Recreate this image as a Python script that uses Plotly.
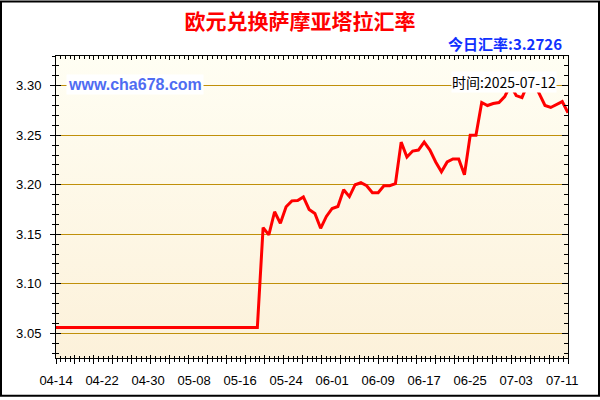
import base64
import pandas as pd
import plotly.graph_objects as go

# daily EUR -> WST rates, 2025-04-14 .. 2025-07-12
dates = pd.date_range("2025-04-14", "2025-07-12", freq="D").strftime("%Y-%m-%d").tolist()
rates = [3.0558] * 36 + [
    3.1567, 3.1493, 3.1727, 3.1610, 3.1777, 3.1837, 3.1840, 3.1877,
    3.1750, 3.1710, 3.1560, 3.1680, 3.1760, 3.1780, 3.1950, 3.1880,
    3.2000, 3.2020, 3.1990, 3.1920, 3.1920, 3.1990, 3.1990, 3.2010,
    3.2430, 3.2280, 3.2340, 3.2350, 3.2430, 3.2350, 3.2230, 3.2130,
    3.2230, 3.2260, 3.2260, 3.2100, 3.2500, 3.2500, 3.2830, 3.2800,
    3.2820, 3.2830, 3.2890, 3.3010, 3.2900, 3.2880, 3.3020, 3.3040,
    3.2920, 3.2800, 3.2780, 3.2810, 3.2840, 3.2726,
]

tick_dates = ["2025-04-14", "2025-04-22", "2025-04-30", "2025-05-08", "2025-05-16", "2025-05-24",
              "2025-06-01", "2025-06-09", "2025-06-17", "2025-06-25", "2025-07-03", "2025-07-11"]
tick_labels = ["04-14", "04-22", "04-30", "05-08", "05-16", "05-24",
               "06-01", "06-09", "06-17", "06-25", "07-03", "07-11"]
y_ticks = [3.05, 3.10, 3.15, 3.20, 3.25, 3.30]
y_labels = ["3.05", "3.10", "3.15", "3.20", "3.25", "3.30"]

title = "欧元兑换萨摩亚塔拉汇率"
today_rate = "今日汇率:3.2726"
time_label = "时间:2025-07-12"
site = "www.cha678.com"

GOLD = "#C0900A"
DAY = 86400000
x_range = [dates[0], dates[-1]]
y_range = [3.025, 3.33]
span = (len(dates) - 1) * DAY
long_dt = span / 27
short_dt = span / 108

# plot area geometry (px)
L, R, T, B = 56, 568, 56, 361
W, H = R - L, B - T


def px_x(p):
    return (p - L) / W


def px_y(p):
    return (B - p) / H


svg = ('<svg xmlns="http://www.w3.org/2000/svg" width="10" height="100" preserveAspectRatio="none">'
       '<defs><linearGradient id="g" x1="0" y1="0" x2="0" y2="1">'
       '<stop offset="0" stop-color="#FFFEF3"/><stop offset="1" stop-color="#FCF1DA"/>'
       '</linearGradient></defs><rect width="10" height="100" fill="url(#g)"/></svg>')
bg_src = "data:image/svg+xml;base64," + base64.b64encode(svg.encode()).decode()

fig = go.Figure()
fig.add_trace(go.Scatter(x=dates, y=rates, mode="lines",
                         line=dict(color="#FF0000", width=3), hoverinfo="skip"))
# empty traces so the tick-only overlay axes get drawn
fig.add_trace(go.Scatter(x=[], y=[], xaxis="x2", yaxis="y2"))
fig.add_trace(go.Scatter(x=[], y=[], xaxis="x3", yaxis="y3"))
fig.add_trace(go.Scatter(x=[], y=[], xaxis="x4", yaxis="y2"))

tick_font = dict(family="Liberation Sans, Arial", size=13, color="black")


def tick_axis(side, ticks, long_len, short_len):
    return dict(type="date", range=x_range, overlaying="x", anchor="y", side=side,
                showgrid=False, showline=False, showticklabels=False,
                ticks=ticks, ticklen=long_len, tickcolor="black", tick0=dates[0], dtick=long_dt,
                minor=dict(ticks=ticks, ticklen=short_len, tickcolor="black",
                           tick0=dates[0], dtick=short_dt, showgrid=False))


fig.update_layout(
    width=600, height=400,
    margin=dict(l=L, r=600 - R, t=T, b=400 - B),
    paper_bgcolor="white", plot_bgcolor="rgba(0,0,0,0)",
    showlegend=False,
    title=dict(text=title, x=0.5, xref="container", xanchor="center",
               y=1 - 22 / 400, yref="container", yanchor="middle",
               font=dict(family="Noto Sans CJK SC", size=21, color="#FF0000", weight="bold")),
    xaxis=dict(type="date", range=x_range, tickvals=tick_dates, ticktext=tick_labels,
               ticks="", tickfont=tick_font, ticklabelstandoff=10,
               showgrid=False, showline=True, linecolor="black", linewidth=1, mirror=True),
    xaxis2=tick_axis("bottom", "outside", 5, 3),
    xaxis3=tick_axis("bottom", "inside", 3, 2),
    xaxis4=tick_axis("top", "inside", 4, 3),
    yaxis=dict(range=y_range, tickvals=y_ticks, ticktext=y_labels, tickfont=tick_font,
               ticks="outside", ticklen=5, tickcolor="black", ticklabelstandoff=6,
               minor=dict(ticks="outside", ticklen=3, tickcolor="black", tickmode="linear",
                          tick0=3.0, dtick=0.01, showgrid=False),
               showgrid=True, gridcolor=GOLD, gridwidth=1, zeroline=False,
               showline=True, linecolor="black", linewidth=1, mirror=True),
    yaxis2=dict(range=y_range, overlaying="y", anchor="x", side="left",
                showgrid=False, showline=False, showticklabels=False, zeroline=False,
                ticks="inside", ticklen=5, tickcolor="black", tickvals=y_ticks,
                minor=dict(ticks="inside", ticklen=3, tickcolor="black", tickmode="linear",
                           tick0=3.0, dtick=0.01, showgrid=False)),
    yaxis3=dict(range=y_range, overlaying="y", anchor="x", side="right",
                showgrid=False, showline=False, showticklabels=False, zeroline=False,
                ticks="inside", ticklen=6, tickcolor="black", tickvals=y_ticks,
                minor=dict(ticks="inside", ticklen=4, tickcolor="black", tickmode="linear",
                           tick0=3.0, dtick=0.01, showgrid=False)),
    images=[dict(source=bg_src, xref="paper", yref="paper", x=0, y=1, sizex=1, sizey=1,
                 xanchor="left", yanchor="top", sizing="stretch", layer="below")],
    shapes=[dict(type="rect", xref="paper", yref="paper",
                 x0=px_x(1), x1=px_x(599), y0=px_y(399), y1=px_y(1),
                 line=dict(color="black", width=2), fillcolor="rgba(0,0,0,0)")],
    annotations=[
        dict(text=today_rate, xref="paper", yref="paper", x=px_x(564), y=px_y(43),
             xanchor="right", yanchor="middle", showarrow=False,
             font=dict(family="Noto Sans CJK SC", size=15, color="#1030FF", weight="bold")),
        dict(text=site, xref="paper", yref="paper", x=px_x(66), y=px_y(85),
             xanchor="left", yanchor="middle", showarrow=False, bgcolor="white", borderpad=1,
             font=dict(family="Liberation Sans, Arial", size=16, color="#4F6CF2", weight="bold")),
        dict(text=time_label, xref="paper", yref="paper", x=px_x(557), y=px_y(82),
             xanchor="right", yanchor="middle", showarrow=False, bgcolor="white", borderpad=0,
             font=dict(family="Noto Sans CJK SC", size=14, color="black")),
    ],
)

# the page's default body margin would shift the chart by 8px
fig.write_html("out.html", config={"displayModeBar": False},
               post_script="document.body.style.margin='0';document.body.style.overflow='hidden';")
